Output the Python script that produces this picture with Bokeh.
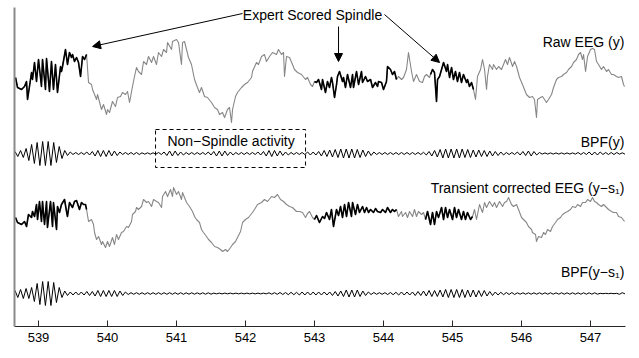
import numpy as np
from bokeh.plotting import figure
from bokeh.models import Range1d, Arrow, NormalHead, BoxAnnotation, Label, FixedTicker
from bokeh.embed import file_html
from bokeh.resources import INLINE

# ---------------- data (time in s, amplitude in arbitrary units) ----------------
raw_t = [538.667, 538.696, 538.754, 538.797, 538.826, 538.841, 538.899, 538.913, 538.942, 538.971,
         539.000, 539.043, 539.058, 539.101, 539.116, 539.159, 539.188, 539.217, 539.246, 539.275,
         539.319, 539.333, 539.348, 539.391, 539.420, 539.449, 539.478, 539.493, 539.522, 539.551,
         539.580, 539.609, 539.638, 539.667, 539.696,
         539.725, 539.768, 539.783, 539.841, 539.855, 539.913, 539.942, 539.986, 540.000, 540.029,
         540.072, 540.116, 540.145, 540.188, 540.217, 540.261, 540.290, 540.319, 540.362, 540.391,
         540.420, 540.449, 540.493, 540.522, 540.565, 540.594, 540.638, 540.667, 540.710, 540.739,
         540.783, 540.812, 540.855, 540.870, 540.928, 540.942, 541.000, 541.029, 541.072, 541.087,
         541.116, 541.145, 541.174, 541.217, 541.261, 541.304, 541.333, 541.362, 541.406, 541.449,
         541.507, 541.551, 541.594, 541.623, 541.667, 541.696, 541.739, 541.768, 541.797, 541.812,
         541.855, 541.884, 541.942, 541.986, 542.029, 542.087, 542.101, 542.159, 542.188, 542.232,
         542.275, 542.304, 542.348, 542.391, 542.449, 542.478, 542.522, 542.551, 542.565, 542.594,
         542.638, 542.681, 542.710, 542.754, 542.812, 542.870, 542.899, 542.942, 542.971,
         543.000, 543.029, 543.058, 543.101, 543.116, 543.159, 543.188, 543.217, 543.246, 543.261,
         543.290, 543.319, 543.333, 543.362, 543.406, 543.420, 543.449, 543.478, 543.522, 543.551,
         543.565, 543.609, 543.638, 543.681, 543.696, 543.739, 543.768, 543.812, 543.841, 543.884,
         543.913, 543.928, 543.971, 544.000, 544.043, 544.058, 544.101, 544.130, 544.159, 544.188,
         544.217, 544.261, 544.290, 544.333, 544.362, 544.406, 544.435, 544.478, 544.522, 544.565,
         544.594, 544.623, 544.667,
         544.681, 544.710, 544.739, 544.768, 544.783, 544.812, 544.841, 544.870, 544.913, 544.928,
         544.957, 544.986, 545.014, 545.043, 545.072, 545.101, 545.130, 545.159, 545.203, 545.217,
         545.246, 545.275, 545.304,
         545.333, 545.362, 545.406, 545.435, 545.464, 545.493, 545.507, 545.536, 545.580, 545.594,
         545.638, 545.667, 545.710, 545.739, 545.768, 545.797, 545.826, 545.870, 545.899, 545.928,
         545.971, 546.014, 546.043, 546.072, 546.116, 546.159, 546.188, 546.217, 546.232, 546.275,
         546.304, 546.333, 546.362, 546.391, 546.435, 546.464, 546.507, 546.536, 546.580, 546.609,
         546.652, 546.681, 546.725, 546.754, 546.797, 546.826, 546.855, 546.884, 546.899, 546.928,
         546.957, 547.000, 547.029, 547.058, 547.087, 547.116, 547.159, 547.188, 547.232, 547.261,
         547.304, 547.333, 547.377, 547.406, 547.449, 547.478, 547.493]
raw_v = [7, -3, -5, -2, 3, -15, 12, 5, 22, 3, 25, -2, 25, -5, 26, -7, 23, -5, 20, -8,
         18, 13, 18, 35, 20, 32, 27, 30, 23, 27, 22, 8, 28, 25, 30,
         2, 0, -5, -15, -10, -25, -20, -30, -25, -28, -17, -22, -13, -12, -8, -10, -7, -18, -2, 8,
         17, 13, 10, 23, 20, 28, 22, 28, 20, 32, 28, 35, 32, 42, 35, 43, 45, 42, 20, 42,
         43, 35, 27, 20, 5, -3, -8, -3, -12, -13, -18, -23, -25, -30, -28, -33, -25, -23, -38, -25,
         -12, -8, -3, 0, 2, 7, 13, 22, 20, 28, 30, 23, 28, 32, 30, 35, 30, 32, 8, 28,
         27, 20, 15, 12, 10, 5, 7, 0, -2,
         3, 2, 5, -5, 5, -8, 3, -3, 7, 2, -13, 0, 8, 13, 3, 7, -3, 10, -3, 10,
         -3, 13, 0, 13, 2, 8, 3, 5, -3, 2, -2, 3, 2, -5, 3, 18, 15, 10, 13, 5,
         8, 5, 7, 15, 32, 13, 3, 10, 3, 2, 8, 10, 7,
         10, 15, 12, -17, 5, 8, 15, 22, 13, 20, 7, 17, 5, 13, 3, 12, 2, 10, 2, 5, -2, 2, -5,
         -15, 8, 15, 25, 15, -5, 8, 20, 15, 20, 15, 18, 15, 20, 25, 20, 27, 18, 23, 18,
         7, 0, -5, -10, -13, -12, -15, -33, -15, -13, -12, -15, -18, -15, -10, -3, 5, 7, 8, 10,
         12, 15, 18, 22, 25, 30, 32, 25, 30, 13, 28, 35, 36, 35, 23, 20, 15, 18, 13, 15,
         10, 10, 8, 7, 8, 0, -2]

tc_t = [538.667, 538.696, 538.754, 538.797, 538.826, 538.855, 538.899, 538.913, 538.942, 538.971,
        538.986, 539.014, 539.043, 539.058, 539.087, 539.116, 539.130, 539.174, 539.203, 539.217,
        539.261, 539.275, 539.304, 539.333, 539.377, 539.406, 539.420, 539.449, 539.493, 539.522,
        539.551, 539.594, 539.623, 539.652, 539.681, 539.696,
        539.725, 539.768, 539.797, 539.812, 539.841, 539.870, 539.913, 539.928, 539.971, 540.000,
        540.029, 540.072, 540.101, 540.130, 540.159, 540.203, 540.232, 540.275, 540.304, 540.348,
        540.362, 540.406, 540.420, 540.449, 540.493, 540.522, 540.565, 540.594, 540.638, 540.667,
        540.710, 540.739, 540.783, 540.797, 540.841, 540.870, 540.913, 540.942, 540.957, 541.000,
        541.029, 541.072, 541.087, 541.116, 541.145, 541.188, 541.232, 541.261, 541.290, 541.333,
        541.362, 541.391, 541.435, 541.464, 541.507, 541.551, 541.594, 541.638, 541.667, 541.710,
        541.739, 541.783, 541.812, 541.855, 541.884, 541.928, 541.957, 542.000, 542.043, 542.101,
        542.130, 542.174, 542.232, 542.275, 542.319, 542.377, 542.420, 542.464, 542.507, 542.551,
        542.594, 542.638, 542.681, 542.739, 542.783, 542.826, 542.870, 542.899, 542.928, 542.971,
        543.000, 543.029, 543.072, 543.116, 543.145, 543.174, 543.217, 543.246, 543.275, 543.319,
        543.348, 543.377, 543.406, 543.435, 543.464, 543.493, 543.536, 543.551, 543.594, 543.623,
        543.652, 543.696, 543.725, 543.754, 543.783, 543.812, 543.855, 543.884, 543.913, 543.957,
        543.986, 544.029, 544.058, 544.101, 544.130, 544.159, 544.188,
        544.217, 544.261, 544.275, 544.319, 544.348, 544.377, 544.420, 544.449, 544.478, 544.507,
        544.551, 544.580,
        544.609, 544.638, 544.681, 544.710, 544.739, 544.768, 544.797, 544.841, 544.870, 544.899,
        544.928, 544.957, 545.000, 545.029, 545.058, 545.087, 545.130, 545.159, 545.188, 545.217,
        545.261, 545.290,
        545.319, 545.348, 545.391, 545.435, 545.464, 545.493, 545.536, 545.580, 545.609, 545.638,
        545.681, 545.725, 545.754, 545.783, 545.812, 545.855, 545.884, 545.928, 545.957, 546.000,
        546.029, 546.072, 546.101, 546.145, 546.159, 546.203, 546.217, 546.246, 546.290, 546.319,
        546.348, 546.377, 546.420, 546.449, 546.493, 546.522, 546.565, 546.594, 546.638, 546.667,
        546.710, 546.739, 546.783, 546.812, 546.855, 546.884, 546.928, 546.957, 547.000, 547.029,
        547.058, 547.087, 547.116, 547.159, 547.188, 547.232, 547.261, 547.304, 547.333, 547.377,
        547.406, 547.449, 547.493]
tc_v = [-3, -8, -10, -7, -12, 0, -3, 3, -2, 10, -5, 13, -7, 13, -10, 13, -13, 13, -12, 12,
        -15, 8, 2, 10, 15, 3, -2, 12, 7, 13, 14, 5, 12, 10, 10, 5,
        -7, -5, -10, -18, -25, -22, -30, -27, -33, -27, -32, -23, -30, -20, -25, -18, -17, -12, -13, -7,
        0, 3, 7, 5, 8, 15, 12, 13, 8, 15, 13, 12, 7, 18, 23, 18, 25, 18, 27, 20,
        23, 15, 22, 17, 12, 8, 3, -2, -5, -8, -15, -18, -22, -25, -28, -32, -33, -35, -37, -35,
        -37, -33, -30, -27, -23, -17, -8, -5, -3, 2, 5, 10, 12, 15, 13, 18, 17, 20, 15, 13,
        10, 8, 7, 3, 3, 2, -3, 1, 3, -3,
        -5, -1, -8, -2, -4, 2, -5, 5, -12, 5, -1, 8, -3, 10, -2, 12, -2, 12, 0, 10,
        2, 8, 2, 7, 2, 5, 2, 6, 3, 2, 5, 2, 7, 2, 5, 3, 5,
        -2, 3, -2, 2, -3, 3, -2, 5, -2, 3, 0, 2,
        -5, 3, -10, 2, -10, 3, -3, 7, -5, 7, -3, 5, -5, 7, -3, 5, -5, 3, -5, 2, -5, -2,
        5, -5, 10, 2, 12, 7, 13, 8, 12, 7, 13, 8, 12, 13, 17, 10, 8, 10, 5, -3,
        -5, -8, -12, -15, -18, -20, -27, -22, -23, -18, -20, -15, -17, -12, -8, -5, -3, 0, 2, 3,
        5, 8, 7, 10, 8, 12, 12, 15, 13, 17, 13, 12, 10, 8, 10, 7, 5, 3, 2, 2,
        -2, -3, -7]

# band-pass filtered signals: successive half-cycle extremes
bpf_t0 = 538.66
bpf_dt = 0.04
bpf_y = [2, -3, 3, -4,
         5, -7, 9, -10, 11, -12, 12, -12, 12, -12, 11, -9, 7, -5, 3, -2,
         1.5, -1, 1, -1, 1, -1, 1.5, -1.5, 2,
         -2.5, 3, -3, 3, -3, 3, -2.5, 2.5, -2, 1.5,
         -1, 1, -1, 1, -1, 1, -1, 0.7, -0.7, 0.7,
         -0.7, 0.7, -0.7, 1, -1,
         1.5, -2, 2.5, -2.5, 2.5, -2, 1.5, -1.5,
         1, -1, 1, -1, 1, -1, 1, -1, 1.5, -1.5,
         2, -2.5, 2.5, -2.5, 2.5, -2, 1.5, -1.5, 1,
         -1, 1, -1, 1, -1, 1, -1, 1.5, -1.5,
         2, -2.5, 3, -3, 3, -2.5, 2.5, -2, 1.5, -1.5, 1, -1,
         1, -1, 1, -1, 1.5, -1.5, 1.5, -1.5, 2,
         -2.5, 3, -3, 3.5, -3.5, 4, -4, 4.5, -4.5, 4.5, -4.5,
         4.5, -4.5, 4, -4, 3.5, -3, 2.5, -2, 1.5, -1,
         1, -1, 1, -1, 1, -1, 1, -1, 1, -1, 1, -1, 1, -1, 1, -1, 1.2, -1.5, 2,
         -2.5, 3, -3.5, 4,
         -4.5, 4.5, -4.5, 4.5, -4.5, 4.5, -4.5, 4.5, -4, 4, -4, 3.5, -3.5, 3.5, -3, 3, -3,
         2.5, -2.5, 2, -2,
         1.5, -1.5, 1, -1, 1, -1, 1.5, -1.5, 2, -2,
         2.5, -2.5, 2, -1.5, 1,
         -0.6, 0.6, -0.6, 0.6, -0.6, 0.6, -0.6, 0.6, -0.6, 0.6, -0.6, 0.6, -0.6, 1, -1,
         1, -1, 1.5, -1.5, 1.5, -1.5, 1.5, -1, 1, -1, 1, -1, 1, -0.7, 0.7, -0.7]
bpf_ys1 = [3, -4, 4, -5,
           5, -5, 6, -8, 10,
           -11, 12, -12, 12, -12, 11, -9, 6, -4,
           2.5, -2, 1.5, -1.5, 1.5, -1.5, 1.5, -1.5, 2, -2, 2, -2.5,
           3, -3, 3, -3, 3, -3, 3, -3, 2.5, -2, 1.5, -1,
           0.8, -0.8, 0.8, -0.8, 0.8, -0.8, 0.8, -0.8, 0.8, -0.8,
           0.8, -0.8, 0.8, -0.8, 0.8, -0.8, 0.8, -0.8, 0.8, -0.8,
           0.7, -0.7, 0.7, -0.7, 0.7, -0.7, 0.7, -0.7, 0.7, -0.7,
           0.4, -0.4, 0.4, -0.4, 0.4, -0.4, 0.4, -0.4, 0.4, -0.4,
           0.4, -0.4, 0.4, -0.4, 0.4, -0.4, 0.4, -0.4, 0.4, -0.4,
           0.7, -0.7, 0.8, -0.8, 1, -1, 1, -1.2, 1.2, -1.2, 1.2, -1.5, 1.5, -1.5, 1.5, -1.5, 1.5, -1.5, 1.5,
           -1.5, 1.5, -1.5, 1.5, -2, 2, -2.5, 2.5,
           -3, 3.5, -3.5, 3.5, -3.5, 3.5, -3, 2.5, -2, 1.5,
           -1, 1, -0.8, 0.8, -0.8, 0.8, -1, 1, -1.2, 1.2,
           -1.5, 1.5, -1.5, 1.5, -1.5, 1.5, -2, 2, -2, 2.5, -2.5, 3, -3, 3, -3,
           3.5, -3.5, 4, -4, 4, -4, 4, -4, 4, -4, 3.5, -3.5, 3.5, -3.5, 3, -3, 3, -2.5,
           2, -2, 1.5, -1.5, 1.2, -1.2, 1, -1, 1, -1,
           0.7, -0.7, 0.7, -0.7, 0.7, -0.7, 0.7, -0.7, 0.7, -0.7,
           0.7, -0.7, 0.7, -0.7, 0.7, -0.7, 0.7, -0.7, 0.7, -0.7,
           0.7, -0.7, 0.7, -0.7, 0.7, -0.7, 0.7, -0.7, 0.7, -0.7,
           0.2, -0.2, 0.2, -0.2, 0.2, -0.2, 0.2,
           -0.8, 0.8, -0.4]

raw_spindles = [(538.60, 539.70), (542.99, 544.19), (544.675, 545.31)]
tc_spindles = [(538.60, 539.70), (542.99, 544.19), (544.60, 545.30)]
xticks = [539, 540, 541, 542, 543, 544, 545, 546, 547]

# vertical placement of the four traces (layout)
OFF_RAW, OFF_BPF, OFF_TC, OFF_BPF1 = 242, 173, 112, 33

FONT = "Liberation Sans"
GRAY = "#878787"

p = figure(width=631, height=349, x_range=Range1d(538.652, 547.507), y_range=Range1d(0, 319),
           output_backend="svg", toolbar_location=None,
           min_border_left=14, min_border_right=6, min_border_top=7, min_border_bottom=23)
p.grid.visible = False
p.outline_line_color = None
p.background_fill_color = "white"

# axes
p.xaxis.ticker = FixedTicker(ticks=xticks)
p.xaxis.major_tick_in = 6
p.xaxis.major_tick_out = 0
p.xaxis.minor_tick_line_color = None
p.xaxis.axis_line_color = "#262626"
p.xaxis.major_tick_line_color = "#262626"
p.xaxis.major_label_text_font = FONT
p.xaxis.major_label_text_font_size = "13px"
p.xaxis.major_label_text_color = "black"
p.xaxis.major_label_standoff = 6
p.yaxis.ticker = FixedTicker(ticks=[])
p.yaxis.major_tick_line_color = None
p.yaxis.minor_tick_line_color = None
p.yaxis.major_tick_out = 0
p.yaxis.major_label_standoff = 0
p.yaxis.axis_line_color = "#8a8a8a"
p.yaxis.axis_line_width = 2


def draw_trace(t, v, off, marks):
    t = np.asarray(t, dtype=float)
    y = np.asarray(v, dtype=float) + off
    p.line(t, y, line_color=GRAY, line_width=1.1, line_join="round")
    for a, b in marks:
        m = (t >= a) & (t <= b)
        p.line(t[m], y[m], line_color="black", line_width=1.6, line_join="round")


draw_trace(raw_t, raw_v, OFF_RAW, raw_spindles)
draw_trace(tc_t, tc_v, OFF_TC, tc_spindles)

for vals, off in ((bpf_y, OFF_BPF), (bpf_ys1, OFF_BPF1)):
    tt = bpf_t0 + bpf_dt * np.arange(len(vals))
    p.line(tt, np.asarray(vals, dtype=float) + off, line_color="black", line_width=1, line_join="round")

# trace labels
for txt, yy in (("Raw EEG (y)", 285), ("BPF(y)", 185),
                ("Transient corrected EEG (y\u2212s\u2081)", 139), ("BPF(y\u2212s\u2081)", 55)):
    p.add_layout(Label(x=547.49, y=yy, text=txt, text_align="right", text_baseline="middle",
                       text_font=FONT, text_font_size="14px", text_color="black"))

# expert-scored annotation
p.add_layout(Label(x=542.971, y=312, text="Expert Scored Spindle", text_align="center",
                   text_baseline="middle", text_font=FONT, text_font_size="14px", text_color="black"))
for xs, ys, xe, ye in ((541.957, 313, 539.783, 280),
                       (543.348, 300, 543.348, 265),
                       (544.014, 312, 544.812, 264)):
    p.add_layout(Arrow(end=NormalHead(size=8, fill_color="black", line_color="black", line_width=1),
                       x_start=xs, y_start=ys, x_end=xe, y_end=ye,
                       line_color="black", line_width=1))

# non-spindle box
p.add_layout(BoxAnnotation(left=540.696, right=542.870, bottom=159, top=197,
                           fill_alpha=0, line_color="black", line_alpha=1, line_width=1,
                           line_dash="4 3"))
p.add_layout(Label(x=541.79, y=186, text="Non\u2212Spindle activity", text_align="center",
                   text_baseline="middle", text_font=FONT, text_font_size="14px", text_color="black"))

open("out.html", "w").write(file_html(p, INLINE))
